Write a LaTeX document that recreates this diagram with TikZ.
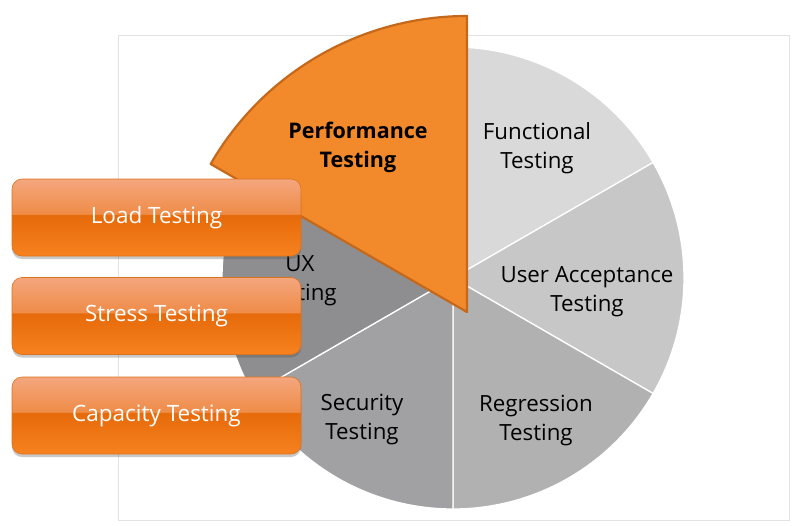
\documentclass[tikz,border=0pt]{standalone}
\usepackage{fontspec}
\setmainfont{Open Sans}
\usetikzlibrary{shadows}
\definecolor{slfunc}{HTML}{D9D9D9}
\definecolor{slua}{HTML}{C7C7C7}
\definecolor{slreg}{HTML}{B1B1B1}
\definecolor{slsec}{HTML}{A1A1A3}
\definecolor{slux}{HTML}{8E8E90}
\definecolor{pforange}{HTML}{F28A2B}
\definecolor{pfedge}{HTML}{C4681C}
\definecolor{frgray}{HTML}{E2E2E2}
\definecolor{btntop}{HTML}{F4A67E}
\definecolor{btnhigh}{HTML}{EF8C48}
\definecolor{btnlow}{HTML}{E66A0A}
\definecolor{btnbot}{HTML}{F7821F}
\definecolor{btnedge}{HTML}{D9731F}
\pgfdeclareverticalshading{btngloss}{100bp}{color(0bp)=(btnbot); color(25bp)=(btnbot);
  color(51.6bp)=(btnlow); color(52.4bp)=(btnhigh); color(75bp)=(btntop); color(100bp)=(btntop)}

\begin{document}
\begin{tikzpicture}[x=1pt,y=1pt,
  lbl/.style={align=center,text=black,font=\fontsize{22.3}{29}\selectfont},
  btn/.style={shading=btngloss,draw=btnedge,line width=0.6pt,rounded corners=10pt,
    minimum width=289pt,minimum height=77pt,text=white,
    font=\fontsize{22.5}{26}\selectfont,
    drop shadow={shadow xshift=0pt,shadow yshift=-3pt,opacity=0.3,fill=black!70}}]

  \useasboundingbox (0,0) rectangle (798,-525);

  \def\R{231}   % pie radius
  \def\Rp{296}  % radius of the pulled-out slice

  % frame
  \draw[frgray,line width=1pt] (118,-35) rectangle (789,-520);

  % =====================================================================
  % PIE — five grey slices of 60 degrees round (453,278)
  % =====================================================================
  \foreach \s/\e/\c in {90/30/slfunc, 30/-30/slua, -30/-90/slreg,
                        -90/-150/slsec, -150/-210/slux} {
    \fill[\c,draw=white,line width=1.3pt]
          (453,-278) -- ++(\s:\R) arc[start angle=\s,end angle=\e,radius=\R] -- cycle;
  }

  % slice labels
  \node[lbl] (func) at (537,-148) {Functional\\Testing};
  \node[lbl] (ua)   at (587,-292) {User Acceptance\\Testing};
  \node[lbl] (reg)  at (536,-420) {Regression\\Testing};
  \node[lbl] (sec)  at (362,-419) {Security\\Testing};
  \node[lbl] (ux)   at (300,-281) {UX\\Testing};

  % performance slice, larger and pulled out
  \draw[pfedge,fill=pforange,line width=2.2pt,line join=round]
        (467,-312) -- ++(90:\Rp) arc[start angle=90,end angle=150,radius=\Rp] -- cycle;
  \node[lbl,font=\bfseries\fontsize{21.5}{29}\selectfont] (perf) at (358,-147)
        {Performance\\Testing};

  % =====================================================================
  % KINDS OF PERFORMANCE TESTING
  % =====================================================================
  \node[btn] (load) at (156.5,-217.5) {Load Testing};
  \node[btn] (stress) at (156.5,-316) {Stress Testing};
  \node[btn] (capa) at (156.5,-415.5) {Capacity Testing};

\end{tikzpicture}
\end{document}
